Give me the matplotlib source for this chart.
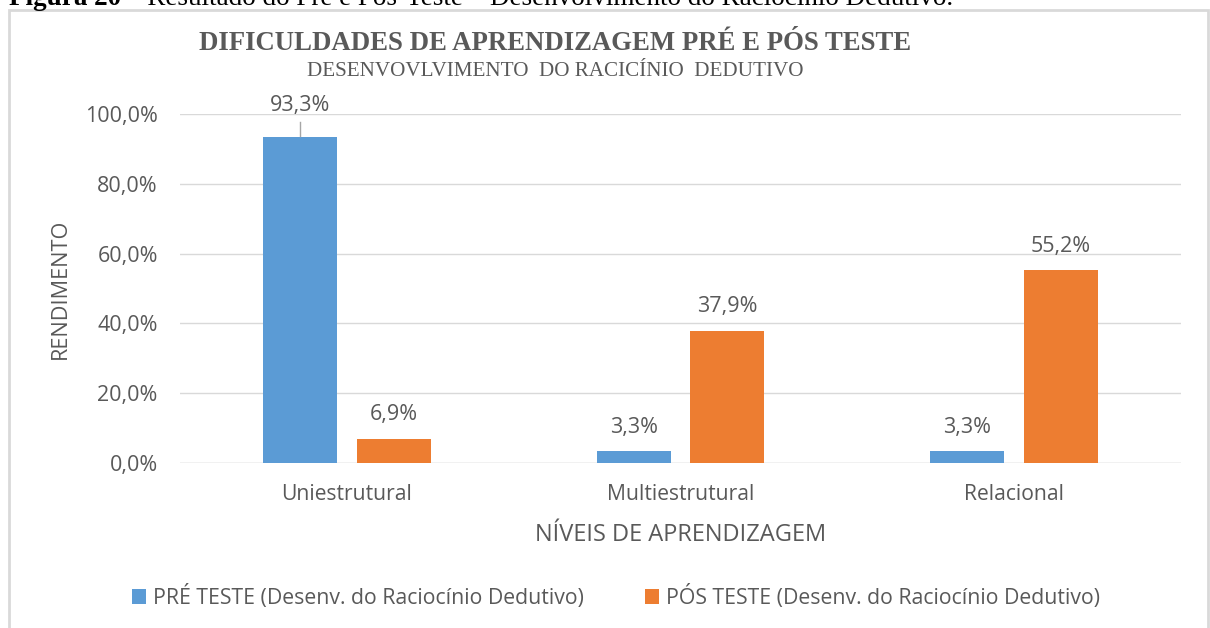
import matplotlib.pyplot as plt
import numpy as np
from matplotlib.patches import Rectangle

# data
niveis = ["Uniestrutural", "Multiestrutural", "Relacional"]
pre_teste = [93.3, 3.3, 3.3]
pos_teste = [6.9, 37.9, 55.2]
rotulos_series = ["PRÉ TESTE (Desenv. do Raciocínio Dedutivo)",
                  "PÓS TESTE (Desenv. do Raciocínio Dedutivo)"]
y_ticks = [0, 20, 40, 60, 80, 100]

azul = "#5b9bd5"
laranja = "#ed7d31"
cinza = "#595959"
fonte = "Open Sans"


def fmt(v):
    return ("%.1f%%" % v).replace(".", ",")


def main():
    fig = plt.figure(figsize=(12.1, 6.28), dpi=100)

    # borda do grafico (estilo Excel)
    fig.patches.append(Rectangle((9 / 1210, -0.05), 1199 / 1210, 1.05 - 10 / 628,
                                 transform=fig.transFigure, fill=False,
                                 edgecolor="#d9d9d9", linewidth=2))

    # legenda da figura, cortada no topo como no original
    t1 = fig.text(9 / 1210, 1 - 5 / 628, "Figura 20", fontsize=19.5, fontweight="bold",
                  family="Liberation Serif", ha="left", va="baseline")
    fig.canvas.draw()
    bb = t1.get_window_extent()
    fig.text((bb.x1 + 6) / 1210, 1 - 5 / 628,
             "– Resultado do Pré e Pós-Teste – Desenvolvimento do Raciocínio Dedutivo.",
             fontsize=19.5, family="Liberation Serif", ha="left", va="baseline")

    ax = fig.add_axes([180 / 1210, 1 - 463 / 628, 1001 / 1210, 349 / 628])
    x = np.arange(len(niveis))
    w = 0.222
    off = 0.14
    b1 = ax.bar(x - off, pre_teste, w, color=azul, label=rotulos_series[0], zorder=2)
    b2 = ax.bar(x + off, pos_teste, w, color=laranja, label=rotulos_series[1], zorder=2)

    for i, v in enumerate(pre_teste):
        if v > 90:
            # rotulo acima com linha de chamada
            ax.text(x[i] - off, 102.3, fmt(v), ha="center", va="center",
                    fontsize=15.5, color=cinza, family=fonte)
            ax.plot([x[i] - off, x[i] - off], [v + 0.3, v + 4.4], color="#a6a6a6", lw=1)
        else:
            ax.text(x[i] - off, v + 6.8, fmt(v), ha="center", va="center",
                    fontsize=15.5, color=cinza, family=fonte)
    for i, v in enumerate(pos_teste):
        ax.text(x[i] + off, v + 6.9, fmt(v), ha="center", va="center",
                fontsize=15.5, color=cinza, family=fonte)

    ax.set_xlim(-0.5, 2.5)
    ax.set_ylim(0, 100)
    ax.set_yticks(y_ticks)
    ax.set_yticklabels([fmt(t) for t in y_ticks], family=fonte, fontsize=15.5, color=cinza)
    ax.set_xticks(x)
    ax.set_xticklabels(niveis, family=fonte, fontsize=15.2, color=cinza)
    ax.tick_params(length=0)
    ax.tick_params(axis="y", pad=16)
    ax.tick_params(axis="x", pad=15)
    ax.grid(axis="y", color="#d9d9d9", lw=1, zorder=0)
    for s in ax.spines.values():
        s.set_visible(False)
    ax.axhline(0, color="#d9d9d9", lw=1, zorder=1)

    ax.set_ylabel("RENDIMENTO", family=fonte, fontsize=15.6, color=cinza, labelpad=10)
    ax.set_xlabel("NÍVEIS DE APRENDIZAGEM", family=fonte, fontsize=17, color=cinza, labelpad=13)

    fig.text(555 / 1210, 1 - 44 / 628, "DIFICULDADES DE APRENDIZAGEM PRÉ E PÓS TESTE",
             ha="center", va="center", fontsize=19.3, fontweight="bold",
             family="Liberation Serif", color=cinza)
    fig.text(555 / 1210, 1 - 72 / 628, "DESENVOVLVIMENTO  DO RACICÍNIO  DEDUTIVO",
             ha="center", va="center", fontsize=15.2, family="Liberation Serif", color=cinza)

    leg = fig.legend(handles=[b1, b2], loc="center", bbox_to_anchor=(616 / 1210, 1 - 597 / 628),
                     ncol=2, frameon=False, prop={"family": fonte, "size": 15.3},
                     handlelength=0.67, handleheight=0.67, handletextpad=0.3, columnspacing=2.9)
    for t in leg.get_texts():
        t.set_color(cinza)

    fig.savefig("out.png", dpi=100)


if __name__ == '__main__':
    main()
